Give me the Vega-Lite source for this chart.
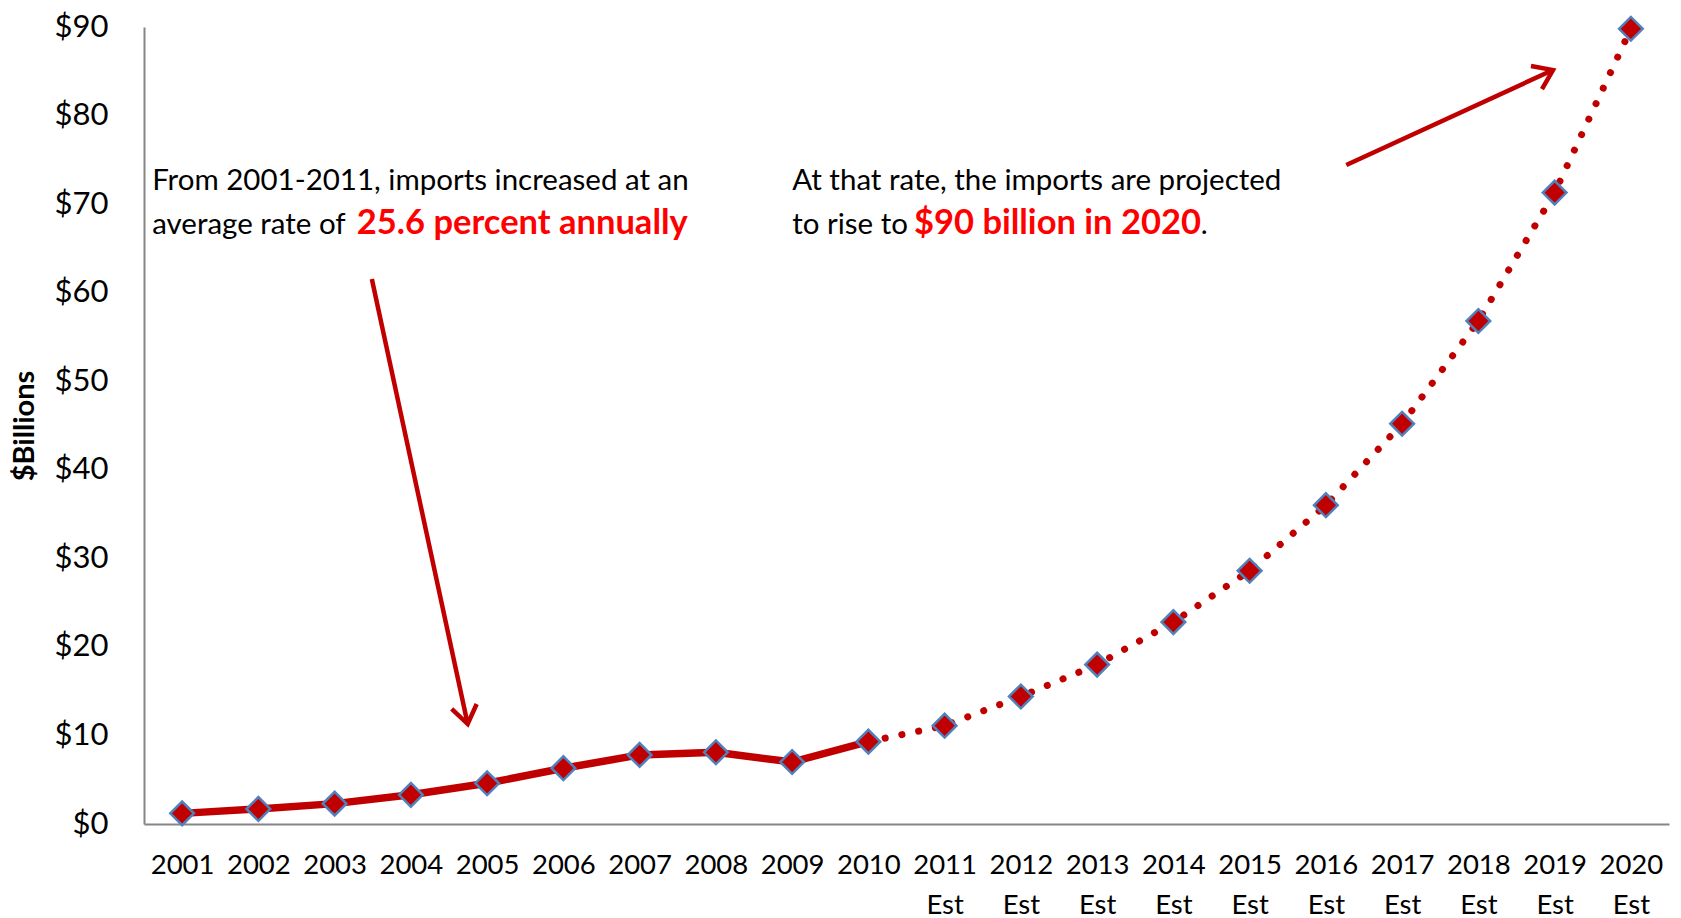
{
  "$schema": "https://vega.github.io/schema/vega-lite/v6.json",
  "autosize": "none",
  "width": 1525,
  "height": 797,
  "padding": {"left": 144, "top": 27, "right": 12, "bottom": 94},
  "background": "white",
  "config": {"view": {"stroke": null}, "font": "Lato"},
  "datasets": {
    "imports": [
      {"year": 2001, "value": 1.2},
      {"year": 2002, "value": 1.7},
      {"year": 2003, "value": 2.3},
      {"year": 2004, "value": 3.3},
      {"year": 2005, "value": 4.6},
      {"year": 2006, "value": 6.3},
      {"year": 2007, "value": 7.8},
      {"year": 2008, "value": 8.1},
      {"year": 2009, "value": 7.0},
      {"year": 2010, "value": 9.3},
      {"year": 2011, "value": 11.1},
      {"year": 2012, "value": 14.4},
      {"year": 2013, "value": 18.0},
      {"year": 2014, "value": 22.8},
      {"year": 2015, "value": 28.6},
      {"year": 2016, "value": 36.0},
      {"year": 2017, "value": 45.2},
      {"year": 2018, "value": 56.8},
      {"year": 2019, "value": 71.3},
      {"year": 2020, "value": 89.8}
    ],
    "arrows": [
      {"part": "a1shaft", "i": 1, "year": 2003.488, "value": 61.54},
      {"part": "a1shaft", "i": 2, "year": 2004.745, "value": 11.29},
      {"part": "a1head", "i": 1, "year": 2004.535, "value": 12.99},
      {"part": "a1head", "i": 2, "year": 2004.745, "value": 11.29},
      {"part": "a1head", "i": 3, "year": 2004.863, "value": 13.55},
      {"part": "a2shaft", "i": 1, "year": 2016.268, "value": 74.41},
      {"part": "a2shaft", "i": 2, "year": 2018.978, "value": 85.14},
      {"part": "a2head", "i": 1, "year": 2018.69, "value": 85.59},
      {"part": "a2head", "i": 2, "year": 2018.978, "value": 85.14},
      {"part": "a2head", "i": 3, "year": 2018.834, "value": 82.99}
    ],
    "notes": [
      {"kind": "black", "year": 2000.607, "value": 71.6, "text": "From 2001-2011, imports increased at an"},
      {"kind": "black", "year": 2000.607, "value": 66.65, "text": "average rate of"},
      {"kind": "black", "year": 2009.0, "value": 71.6, "text": "At that rate, the imports are projected"},
      {"kind": "black", "year": 2009.0, "value": 66.65, "text": "to rise to"},
      {"kind": "black", "year": 2014.36, "value": 66.65, "text": "."},
      {"kind": "red", "year": 2003.291, "value": 66.65, "text": "25.6 percent annually"},
      {"kind": "red", "year": 2010.598, "value": 66.65, "text": "$90 billion in 2020"}
    ]
  },
  "encoding": {
    "x": {
      "field": "year",
      "type": "quantitative",
      "scale": {"domain": [2000.5, 2020.5], "nice": false, "zero": false},
      "axis": {
        "title": null,
        "values": [2001, 2002, 2003, 2004, 2005, 2006, 2007, 2008, 2009, 2010, 2011, 2012, 2013, 2014, 2015, 2016, 2017, 2018, 2019, 2020],
        "format": "d",
        "labelExpr": "datum.value > 2010 ? [datum.label, 'Est'] : datum.label",
        "labelFont": "Lato",
        "labelFontSize": 27.5,
        "labelColor": "#000000",
        "labelLineHeight": 40,
        "labelPadding": 27,
        "labelFlush": false,
        "labelOverlap": false,
        "ticks": false,
        "grid": false,
        "domainColor": "#868686",
        "domainWidth": 2
      }
    },
    "y": {
      "field": "value",
      "type": "quantitative",
      "scale": {"domain": [0, 90], "nice": false},
      "axis": {
        "title": "$Billions",
        "titleFont": "Lato",
        "titleFontSize": 29,
        "titleFontWeight": "bold",
        "titleColor": "#000000",
        "titleAngle": -90,
        "titleBaseline": "middle",
        "titleAlign": "center",
        "titleX": -120,
        "titleY": 398.5,
        "values": [0, 10, 20, 30, 40, 50, 60, 70, 80, 90],
        "labelExpr": "'$' + datum.value",
        "labelFont": "Lato",
        "labelFontSize": 31,
        "labelColor": "#000000",
        "labelPadding": 36,
        "labelFlush": false,
        "labelOverlap": false,
        "ticks": false,
        "grid": false,
        "domainColor": "#868686",
        "domainWidth": 2
      }
    }
  },
  "layer": [
    {
      "data": {"name": "imports"},
      "transform": [{"filter": "datum.year <= 2010"}],
      "mark": {"type": "line", "color": "#C00000", "strokeWidth": 7.5, "strokeJoin": "round"}
    },
    {
      "data": {"name": "imports"},
      "transform": [{"filter": "datum.year >= 2010"}],
      "mark": {"type": "line", "color": "#C00000", "strokeWidth": 7, "strokeDash": [0.1, 17], "strokeCap": "round"}
    },
    {
      "data": {"name": "arrows"},
      "mark": {"type": "line", "color": "#C00000", "strokeWidth": 4.5, "strokeJoin": "miter", "strokeCap": "butt"},
      "encoding": {
        "detail": {"field": "part"},
        "order": {"field": "i", "type": "quantitative"}
      }
    },
    {
      "data": {"name": "imports"},
      "mark": {"type": "point", "shape": "diamond", "filled": false, "fill": "#C00000", "fillOpacity": 1, "stroke": "#4F81BD", "strokeWidth": 2.5, "opacity": 1, "size": 560}
    },
    {
      "data": {"name": "notes"},
      "transform": [{"filter": "datum.kind == 'black'"}],
      "mark": {"type": "text", "align": "left", "baseline": "alphabetic", "font": "Lato", "fontSize": 29.5, "color": "#000000"},
      "encoding": {"text": {"field": "text"}}
    },
    {
      "data": {"name": "notes"},
      "transform": [{"filter": "datum.kind == 'red'"}],
      "mark": {"type": "text", "align": "left", "baseline": "alphabetic", "font": "Lato", "fontSize": 34.5, "fontWeight": "bold", "color": "#FF0000"},
      "encoding": {"text": {"field": "text"}}
    }
  ]
}
